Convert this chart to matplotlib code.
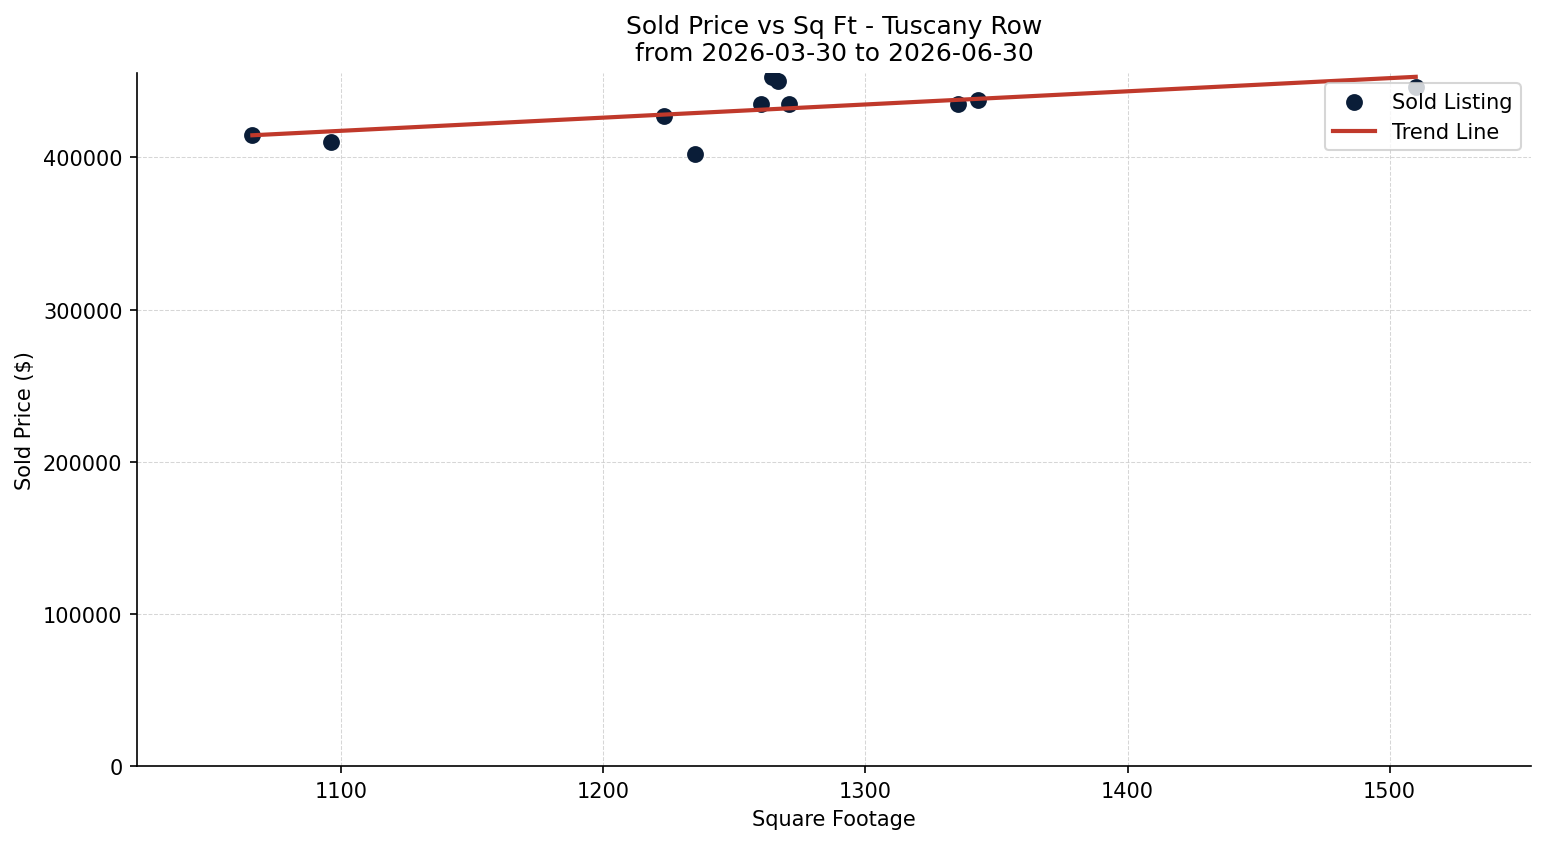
import numpy as np
import matplotlib.pyplot as plt


# data
sqft = np.array([1066, 1096, 1223, 1235, 1260, 1264.5, 1266.5, 1271, 1335.5, 1343, 1510])
price = np.array([415000, 410000, 427000, 402500, 435000, 452500, 450000, 435000, 435000, 437500, 446000])

title = "Sold Price vs Sq Ft - Tuscany Row\nfrom 2026-03-30 to 2026-06-30"

# trend line
coef = np.polyfit(sqft, price, 1)
x_fit = np.array([sqft.min(), sqft.max()])
y_fit = np.polyval(coef, x_fit)


# plotting
fig, ax = plt.subplots(figsize=(10.313, 5.633), dpi=150)
fig.subplots_adjust(left=0.0886, right=0.9897, top=0.9125, bottom=0.0918)

ax.scatter(sqft, price, s=50, color="#0a1d38", label="Sold Listing", zorder=2)
ax.plot(x_fit, y_fit, color="#c0392b", linewidth=2, label="Trend Line", zorder=3)

ax.set_title(title)
ax.set_xlabel("Square Footage")
ax.set_ylabel("Sold Price ($)")
ax.set_xlim(1022, 1554)
ax.set_ylim(bottom=0)
ax.grid(True, linestyle="--", linewidth=0.5, color="#cccccc", alpha=0.8)
ax.set_axisbelow(True)
ax.spines["top"].set_visible(False)
ax.spines["right"].set_visible(False)
ax.legend(loc="upper right")

plt.savefig("out.png", dpi=150)
